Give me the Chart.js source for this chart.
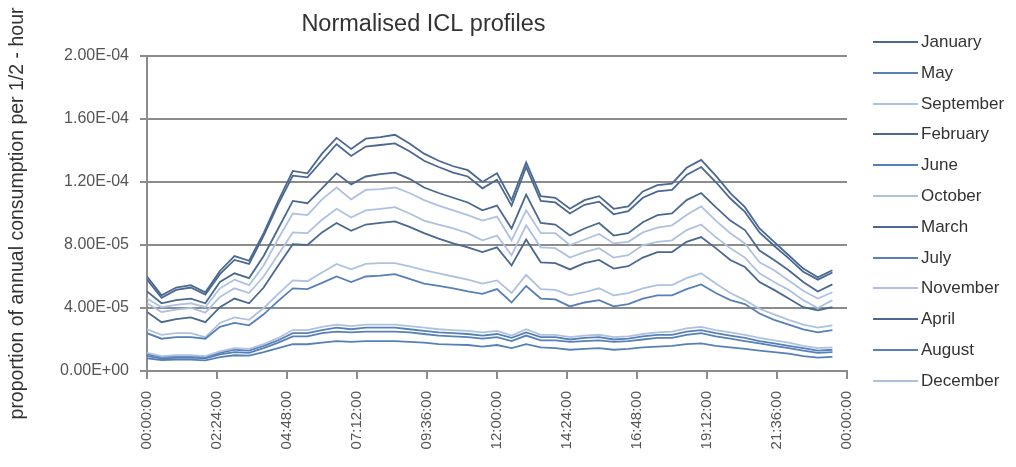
<!DOCTYPE html>
<html>
<head>
<meta charset="utf-8">
<script src="https://cdn.jsdelivr.net/npm/chart.js@4.4.1/dist/chart.umd.min.js"></script>
<style>
	html, body { margin: 0; padding: 0; background: #fff; }
	#wrap { position: relative; width: 1016px; height: 467px; overflow: hidden; }
	#plot { position: absolute; left: 0; top: 0; width: 910px; height: 467px; }
	#legend { position: absolute; left: 873px; top: 0; width: 143px; font-family: "Liberation Sans", Arial, sans-serif; font-size: 17px; color: #333; }
	#legend .item { position: absolute; left: 0; height: 20px; display: flex; align-items: center; white-space: nowrap; }
	#legend .swatch { width: 45px; height: 2px; margin-right: 3px; }
</style>
</head>
<body>
<div id="wrap">
	<div id="plot"><canvas id="chart"></canvas></div>
	<div id="legend"></div>
</div>
<script>
// half-hour starting times
const halfHours = [
	"00:00", "00:30", "01:00", "01:30", "02:00", "02:30", "03:00", "03:30",
	"04:00", "04:30", "05:00", "05:30", "06:00", "06:30", "07:00", "07:30",
	"08:00", "08:30", "09:00", "09:30", "10:00", "10:30", "11:00", "11:30",
	"12:00", "12:30", "13:00", "13:30", "14:00", "14:30", "15:00", "15:30",
	"16:00", "16:30", "17:00", "17:30", "18:00", "18:30", "19:00", "19:30",
	"20:00", "20:30", "21:00", "21:30", "22:00", "22:30", "23:00", "23:30"
];

const xTickLabels = ["00:00:00", "02:24:00", "04:48:00", "07:12:00", "09:36:00", "12:00:00",
	"14:24:00", "16:48:00", "19:12:00", "21:36:00", "00:00:00"];
const yTickLabels = ["0.00E+00", "4.00E-05", "8.00E-05", "1.20E-04", "1.60E-04", "2.00E-04"];

// values, in units of 1E-05
const january = [6.0, 4.8, 5.3, 5.45, 5.0, 6.35, 7.3, 7.0, 8.75, 10.8, 12.7, 12.55, 13.8, 14.8, 14.1, 14.75,
	14.85, 15.0, 14.45, 13.8, 13.35, 13.0, 12.75, 12.0, 12.55, 10.85, 13.25, 11.1, 11.0, 10.3, 10.85, 11.1,
	10.3, 10.45, 11.4, 11.8, 11.9, 12.9, 13.4, 12.4, 11.3, 10.4, 9.05, 8.2, 7.35, 6.5, 5.95, 6.4];
const february = [5.8, 4.65, 5.15, 5.3, 4.85, 6.15, 7.05, 6.8, 8.6, 10.6, 12.4, 12.3, 13.35, 14.4, 13.65, 14.25,
	14.35, 14.45, 13.95, 13.35, 12.95, 12.6, 12.35, 11.6, 12.15, 10.5, 12.95, 10.8, 10.7, 10.0, 10.55, 10.75,
	9.95, 10.15, 11.0, 11.4, 11.5, 12.45, 12.95, 12.0, 10.95, 10.1, 8.8, 7.95, 7.15, 6.3, 5.8, 6.25];
const march = [5.05, 4.3, 4.5, 4.6, 4.3, 5.65, 6.2, 5.9, 7.3, 9.05, 10.8, 10.65, 11.6, 12.55, 11.85, 12.35,
	12.5, 12.6, 12.2, 11.65, 11.3, 11.0, 10.7, 10.2, 10.5, 9.05, 11.2, 9.4, 9.3, 8.6, 9.05, 9.4,
	8.6, 8.75, 9.45, 9.9, 10.0, 10.85, 11.3, 10.4, 9.55, 8.95, 7.65, 7.05, 6.4, 5.65, 5.05, 5.5];
const april = [3.75, 3.1, 3.3, 3.4, 3.1, 4.05, 4.6, 4.3, 5.3, 6.7, 8.05, 8.0, 8.8, 9.4, 8.9, 9.3,
	9.4, 9.5, 9.15, 8.75, 8.4, 8.1, 7.85, 7.55, 7.85, 6.7, 8.35, 6.9, 6.85, 6.45, 6.85, 7.05,
	6.5, 6.65, 7.2, 7.55, 7.55, 8.2, 8.5, 7.8, 7.05, 6.6, 5.65, 5.15, 4.6, 4.05, 3.85, 4.05];
const may = [2.4, 2.05, 2.15, 2.15, 2.05, 2.8, 3.05, 2.9, 3.6, 4.45, 5.25, 5.2, 5.6, 6.0, 5.65, 6.0,
	6.05, 6.15, 5.85, 5.55, 5.4, 5.25, 5.05, 4.9, 5.2, 4.35, 5.4, 4.6, 4.55, 4.1, 4.35, 4.5,
	4.1, 4.25, 4.6, 4.8, 4.8, 5.2, 5.5, 4.95, 4.5, 4.25, 3.65, 3.25, 2.95, 2.65, 2.45, 2.6];
const june = [1.05, 0.9, 0.92, 0.93, 0.88, 1.15, 1.35, 1.3, 1.6, 1.95, 2.4, 2.4, 2.6, 2.75, 2.65, 2.75,
	2.75, 2.75, 2.65, 2.55, 2.45, 2.4, 2.35, 2.25, 2.35, 2.1, 2.45, 2.15, 2.15, 2.0, 2.1, 2.15,
	2.0, 2.05, 2.2, 2.3, 2.3, 2.5, 2.6, 2.4, 2.25, 2.1, 1.9, 1.75, 1.6, 1.45, 1.3, 1.35];
const july = [0.95, 0.8, 0.83, 0.85, 0.8, 1.05, 1.2, 1.15, 1.45, 1.8, 2.2, 2.2, 2.4, 2.5, 2.45, 2.5,
	2.5, 2.5, 2.45, 2.35, 2.25, 2.2, 2.15, 2.05, 2.15, 1.9, 2.25, 1.95, 1.95, 1.85, 1.9, 1.95,
	1.85, 1.9, 2.0, 2.1, 2.1, 2.3, 2.4, 2.2, 2.05, 1.9, 1.75, 1.6, 1.45, 1.3, 1.15, 1.2];
const august = [0.8, 0.7, 0.72, 0.72, 0.68, 0.88, 1.0, 0.98, 1.2, 1.45, 1.7, 1.7, 1.8, 1.9, 1.85, 1.9,
	1.9, 1.9, 1.85, 1.8, 1.7, 1.68, 1.65, 1.55, 1.65, 1.45, 1.7, 1.5, 1.45, 1.35, 1.4, 1.45,
	1.35, 1.4, 1.5, 1.55, 1.6, 1.7, 1.75, 1.6, 1.5, 1.4, 1.3, 1.2, 1.1, 0.95, 0.85, 0.9];
const september = [1.15, 0.95, 1.0, 1.0, 0.95, 1.25, 1.45, 1.4, 1.7, 2.1, 2.6, 2.6, 2.8, 2.95, 2.85, 2.95,
	2.95, 2.95, 2.85, 2.75, 2.65, 2.6, 2.55, 2.45, 2.55, 2.25, 2.65, 2.3, 2.3, 2.15, 2.25, 2.3,
	2.15, 2.2, 2.35, 2.45, 2.5, 2.7, 2.8, 2.6, 2.45, 2.3, 2.1, 1.95, 1.8, 1.6, 1.45, 1.5];
const october = [2.65, 2.3, 2.4, 2.4, 2.15, 3.05, 3.4, 3.25, 4.0, 4.9, 5.75, 5.7, 6.25, 6.8, 6.45, 6.8,
	6.85, 6.85, 6.65, 6.4, 6.2, 6.0, 5.8, 5.55, 5.75, 4.95, 6.1, 5.2, 5.15, 4.8, 5.0, 5.25,
	4.8, 4.95, 5.25, 5.45, 5.45, 5.9, 6.2, 5.55, 4.95, 4.5, 3.95, 3.6, 3.25, 2.95, 2.75, 2.9];
const november = [4.3, 3.75, 3.9, 4.0, 3.7, 4.7, 5.25, 4.95, 6.0, 7.4, 8.8, 8.75, 9.6, 10.3, 9.75, 10.2,
	10.3, 10.4, 10.0, 9.55, 9.3, 9.05, 8.75, 8.3, 8.6, 7.35, 9.25, 7.85, 7.8, 7.2, 7.55, 7.8,
	7.2, 7.35, 8.0, 8.2, 8.3, 8.95, 9.3, 8.5, 7.8, 7.2, 6.2, 5.65, 5.15, 4.5, 4.0, 4.5];
const december = [4.6, 4.05, 4.2, 4.3, 4.05, 5.25, 5.8, 5.45, 6.7, 8.4, 10.0, 9.9, 10.9, 11.65, 10.9, 11.5,
	11.55, 11.65, 11.3, 10.85, 10.5, 10.2, 9.9, 9.55, 9.8, 8.3, 10.2, 8.75, 8.75, 8.0, 8.35, 8.7,
	8.1, 8.2, 8.8, 9.1, 9.25, 9.9, 10.45, 9.55, 8.75, 8.1, 6.9, 6.4, 5.75, 5.1, 4.6, 5.0];

const DARK = "#4a6890";
const MID = "#5780b8";
const LIGHT = "#aec2df";

// legend order of the original
const series = [
	{ label: "January", data: january, color: DARK },
	{ label: "May", data: may, color: MID },
	{ label: "September", data: september, color: LIGHT },
	{ label: "February", data: february, color: DARK },
	{ label: "June", data: june, color: MID },
	{ label: "October", data: october, color: LIGHT },
	{ label: "March", data: march, color: DARK },
	{ label: "July", data: july, color: MID },
	{ label: "November", data: november, color: LIGHT },
	{ label: "April", data: april, color: DARK },
	{ label: "August", data: august, color: MID },
	{ label: "December", data: december, color: LIGHT }
];

// "hh:mm" -> fraction of a day
function dayFraction(t) {
	const parts = t.split(":");
	return (Number(parts[0]) * 60 + Number(parts[1])) / 1440;
}

const FONT = "'Liberation Sans', Arial, sans-serif";

const datasets = series.map(function (s) {
	return {
		label: s.label,
		data: s.data.map(function (v, i) {
			return { x: dayFraction(halfHours[i]), y: v * 1e-5 };
		}),
		borderColor: s.color,
		backgroundColor: s.color,
		borderWidth: 1.8,
		pointRadius: 0,
		tension: 0,
		fill: false
	};
});

new Chart(document.getElementById("chart"), {
	type: "line",
	data: { datasets: datasets },
	options: {
		responsive: true,
		maintainAspectRatio: false,
		animation: false,
		events: [],
		layout: { padding: { left: 0, right: 63, top: 0, bottom: 0 } },
		plugins: {
			legend: { display: false },
			tooltip: { enabled: false },
			title: {
				display: true,
				text: "Normalised ICL profiles",
				color: "#333",
				font: { family: FONT, size: 23.5, weight: "normal", lineHeight: 1.2 },
				padding: { top: 10, bottom: 17.8 }
			}
		},
		scales: {
			x: {
				type: "linear",
				min: 0,
				max: 1,
				afterFit: function (scale) { scale.height = 96; },
				ticks: {
					stepSize: 0.1,
					autoSkip: false,
					minRotation: 90,
					maxRotation: 90,
					padding: 12,
					color: "#555",
					font: { family: FONT, size: 15 },
					callback: function (value, index) { return xTickLabels[index]; }
				},
				grid: { drawOnChartArea: false, drawTicks: true, tickLength: 8, color: "#8c8c8c", lineWidth: 2 },
				border: { color: "#8c8c8c", width: 2 }
			},
			y: {
				min: 0,
				max: 2e-4,
				afterFit: function (scale) { scale.width = 147; },
				ticks: {
					stepSize: 4e-5,
					padding: 11,
					color: "#555",
					font: { family: FONT, size: 16 },
					callback: function (value, index) { return yTickLabels[index]; }
				},
				grid: { color: "#8c8c8c", lineWidth: 2, tickLength: 7 },
				border: { color: "#8c8c8c", width: 2 },
				title: {
					display: true,
					text: "proportion of annual consumption per 1/2 - hour",
					color: "#333",
					font: { family: FONT, size: 19.5 },
					padding: { top: 6, bottom: 0 }
				}
			}
		}
	}
});

// legend, built from the same series list
const legendEl = document.getElementById("legend");
const legendTop = 42;
const legendStep = 30.8;
series.forEach(function (s, i) {
	const item = document.createElement("div");
	item.className = "item";
	item.style.top = (legendTop + i * legendStep - 10) + "px";
	const sw = document.createElement("span");
	sw.className = "swatch";
	sw.style.background = s.color;
	const txt = document.createElement("span");
	txt.textContent = s.label;
	item.appendChild(sw);
	item.appendChild(txt);
	legendEl.appendChild(item);
});
</script>
</body>
</html>
